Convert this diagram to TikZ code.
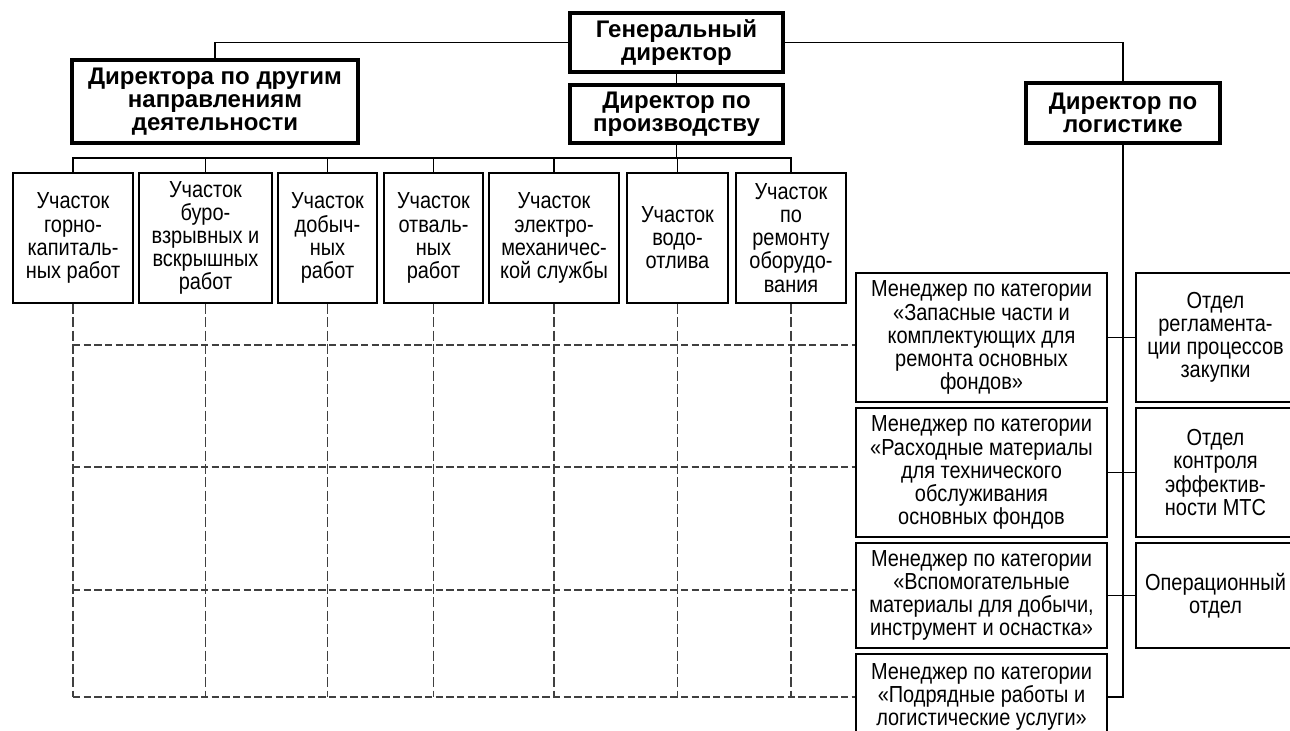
\documentclass[tikz,border=0pt]{standalone}
\usepackage{fontspec}
\usepackage{tikz}
\usetikzlibrary{positioning}
\newfontfamily\diafont{Liberation Sans}[FakeStretch=0.86]
\newfontfamily\headfont{Liberation Sans}

\begin{document}
\begin{tikzpicture}[x=0.75pt, y=-0.75pt,
    headbox/.style={draw, line width=2.3pt, align=center, inner sep=0pt,
      font=\headfont\bfseries\fontsize{18}{17.5}\selectfont},
    unitbox/.style={draw, line width=1.3pt, align=center, inner sep=0pt,
      font=\diafont\fontsize{17.4}{17.3}\selectfont},
    link/.style={line width=0.9pt},
    vdash/.style={line width=0.8pt, black!75, dash pattern=on 7.5pt off 2.5pt},
    hdash/.style={line width=1.2pt, black!75, dash pattern=on 5.5pt off 2.5pt}]
  \useasboundingbox (0,0) rectangle (1290,731);

  % top management
  \node[headbox, minimum width=159.75pt, minimum height=44.25pt] (gen) at (676.5,42.5) {Генеральный\\директор};
  \node[headbox, minimum width=214.5pt, minimum height=62.25pt] (other) at (215,101.5) {Директора по другим\\направлениям\\деятельности};
  \node[headbox, minimum width=159.75pt, minimum height=43.5pt] (prod) at (676.5,114) {Директор по\\производству};
  \node[headbox, minimum width=145.5pt, minimum height=45pt] (logi) at (1123,113) {Директор по\\логистике};

  \draw[link] (gen.west) -| (other.north);
  \draw[link] (gen.east) -| (logi.north);
  \draw[link] (gen.south) -- (prod.north);

  % production sections
  \node[unitbox, minimum width=90pt, minimum height=97.5pt] (s1) at (73,238) {Участок\\горно-\\капиталь-\\ных работ};
  \node[unitbox, minimum width=99.75pt, minimum height=97.5pt] (s2) at (205.5,238) {Участок\\буро-\\взрывных и\\вскрышных\\работ};
  \node[unitbox, minimum width=74.25pt, minimum height=97.5pt] (s3) at (327.5,238) {Участок\\добыч-\\ных\\работ};
  \node[unitbox, minimum width=74.25pt, minimum height=97.5pt] (s4) at (433.5,238) {Участок\\отваль-\\ных\\работ};
  \node[unitbox, minimum width=97.5pt, minimum height=97.5pt] (s5) at (554,238) {Участок\\электро-\\механичес-\\кой службы};
  \node[unitbox, minimum width=75.75pt, minimum height=97.5pt] (s6) at (677.5,238) {Участок\\водо-\\отлива};
  \node[unitbox, minimum width=82.5pt, minimum height=97.5pt] (s7) at (791,238) {Участок\\по\\ремонту\\оборудо-\\вания};

  \coordinate (bus) at (676.5,158);
  \draw[link] (prod.south) -- (bus);
  \foreach \s in {s1,s2,s3,s4,s5,s6,s7}
    \draw[link] (\s.north) |- (bus);

  % category managers
  \node[unitbox, minimum width=188.25pt, minimum height=96.75pt] (m1) at (981.5,337.5) {Менеджер по категории\\«Запасные части и\\комплектующих для\\ремонта основных\\фондов»};
  \node[unitbox, minimum width=188.25pt, minimum height=96.75pt] (m2) at (981.5,472.5) {Менеджер по категории\\«Расходные материалы\\для технического\\обслуживания\\основных фондов};
  \node[unitbox, minimum width=188.25pt, minimum height=78.75pt] (m3) at (981.5,595.5) {Менеджер по категории\\«Вспомогательные\\материалы для добычи,\\инструмент и оснастка»};
  \node[unitbox, minimum width=188.25pt, minimum height=64.5pt] (m4) at (981.5,697) {Менеджер по категории\\«Подрядные работы и\\логистические услуги»};

  % departments
  \node[unitbox, minimum width=119.25pt, minimum height=96.75pt] (r1) at (1215.5,337.5) {Отдел\\регламента-\\ции процессов\\закупки};
  \node[unitbox, minimum width=119.25pt, minimum height=96.75pt] (r2) at (1215.5,472.5) {Отдел\\контроля\\эффектив-\\ности МТС};
  \node[unitbox, minimum width=119.25pt, minimum height=78.75pt] (r3) at (1215.5,595.5) {Операционный\\отдел};

  \draw[link] (logi.south) -- (logi.south |- m4.east) -- (m4.east);
  \draw[link] (m1.east) -- (r1.west);
  \draw[link] (m2.east) -- (r2.west);
  \draw[link] (m3.east) -- (r3.west);

  % dashed matrix
  \coordinate (row1) at (73,345);
  \coordinate (row2) at (73,467);
  \coordinate (row3) at (73,590);
  \coordinate (row4) at (73,697);
  \foreach \s in {s1,s2,s3,s4,s5,s6,s7}
    \draw[vdash] (\s.south) -- (\s.south |- row4);
  \draw[hdash] (row1) -- (row1 -| m1.west);
  \draw[hdash] (row2) -- (row2 -| m2.west);
  \draw[hdash] (row3) -- (row3 -| m3.west);
  \draw[hdash] (row4) -- (row4 -| m4.west);
\end{tikzpicture}
\end{document}
